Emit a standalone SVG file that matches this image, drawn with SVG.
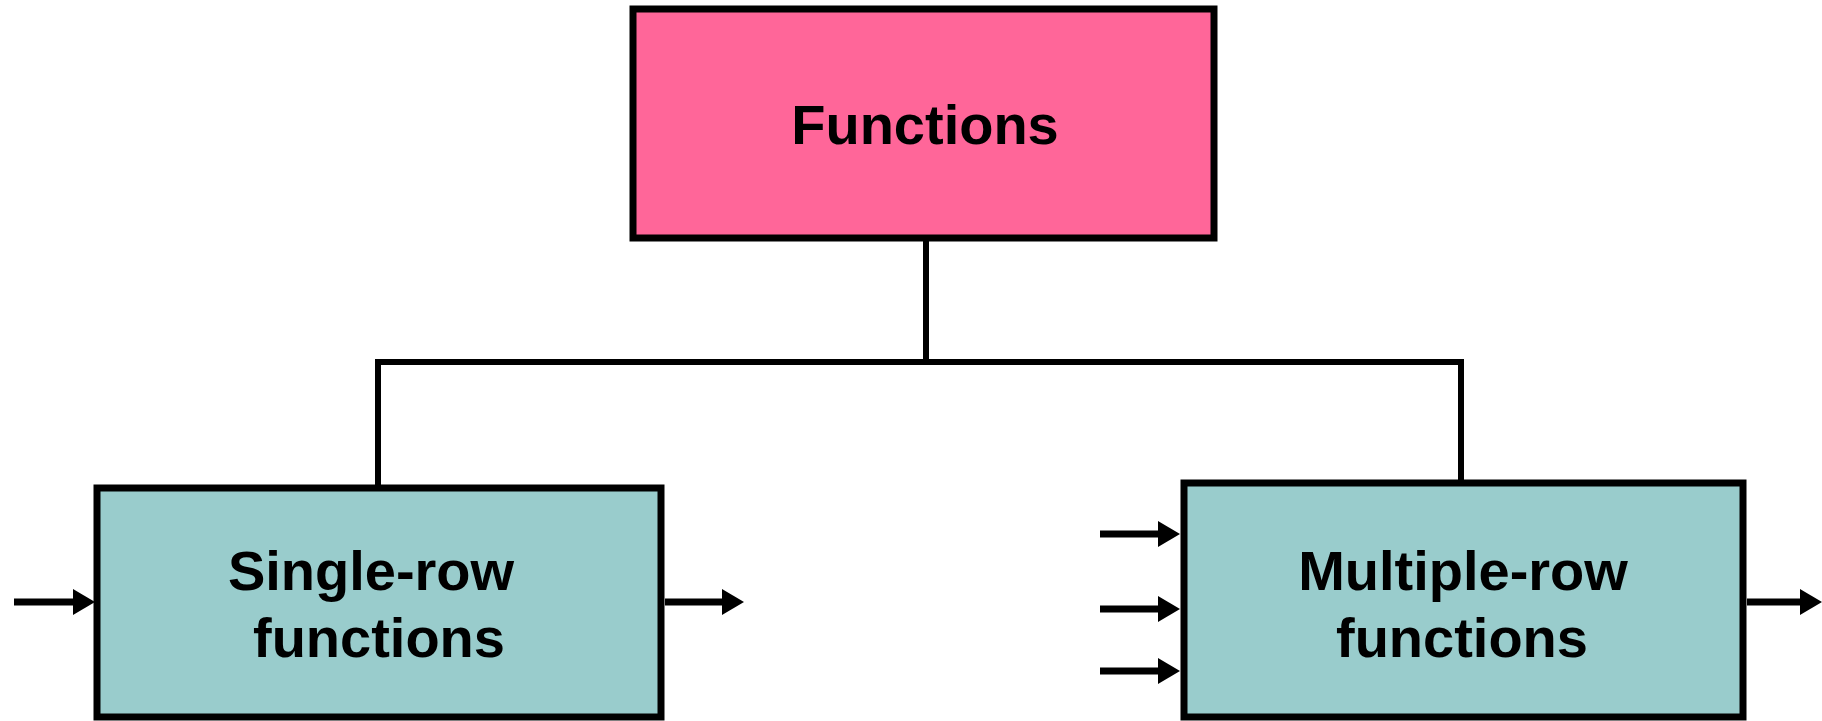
<svg xmlns="http://www.w3.org/2000/svg" width="1822" height="721" viewBox="0 0 1822 721">
  <style>
    .box { stroke: #000; stroke-width: 7; }
    .top { fill: #FF6699; }
    .sub { fill: #99CCCC; }
    .lbl { font-family: "Liberation Sans", Arial, sans-serif; font-weight: bold; font-size: 56px; fill: #000; text-anchor: middle; }
    .wire { stroke: #000; stroke-width: 6; fill: none; }
    .arr { stroke: #000; stroke-width: 7; fill: none; marker-end: url(#ah); }
  </style>
  <defs>
    <marker id="ah" markerUnits="userSpaceOnUse" markerWidth="22" markerHeight="26" refX="4" refY="13" orient="auto">
      <path d="M0,0 L22,13 L0,26 z" fill="#000"/>
    </marker>
  </defs>
  <rect width="1822" height="721" fill="#fff"/>
  <g id="connectors">
    <path class="wire" d="M926,238 V362 M378,362 H1461 M378,359 V488 M1461,359 V482"/>
    <line class="arr" x1="14" y1="602" x2="77" y2="602"/>
    <line class="arr" x1="665" y1="602" x2="726" y2="602"/>
    <line class="arr" x1="1100" y1="534" x2="1162" y2="534"/>
    <line class="arr" x1="1100" y1="609" x2="1162" y2="609"/>
    <line class="arr" x1="1100" y1="671" x2="1162" y2="671"/>
    <line class="arr" x1="1747" y1="602" x2="1804" y2="602"/>
  </g>
  <g id="node-functions">
    <rect class="box top" x="633" y="9" width="581" height="229"/>
    <text class="lbl" x="925" y="144">Functions</text>
  </g>
  <g id="node-single-row">
    <rect class="box sub" x="97" y="488" width="564" height="229"/>
    <text class="lbl" x="371" y="590">Single-row</text>
    <text class="lbl" x="379" y="657">functions</text>
  </g>
  <g id="node-multiple-row">
    <rect class="box sub" x="1184" y="483" width="559" height="234"/>
    <text class="lbl" x="1463" y="590">Multiple-row</text>
    <text class="lbl" x="1462" y="657">functions</text>
  </g>
</svg>
